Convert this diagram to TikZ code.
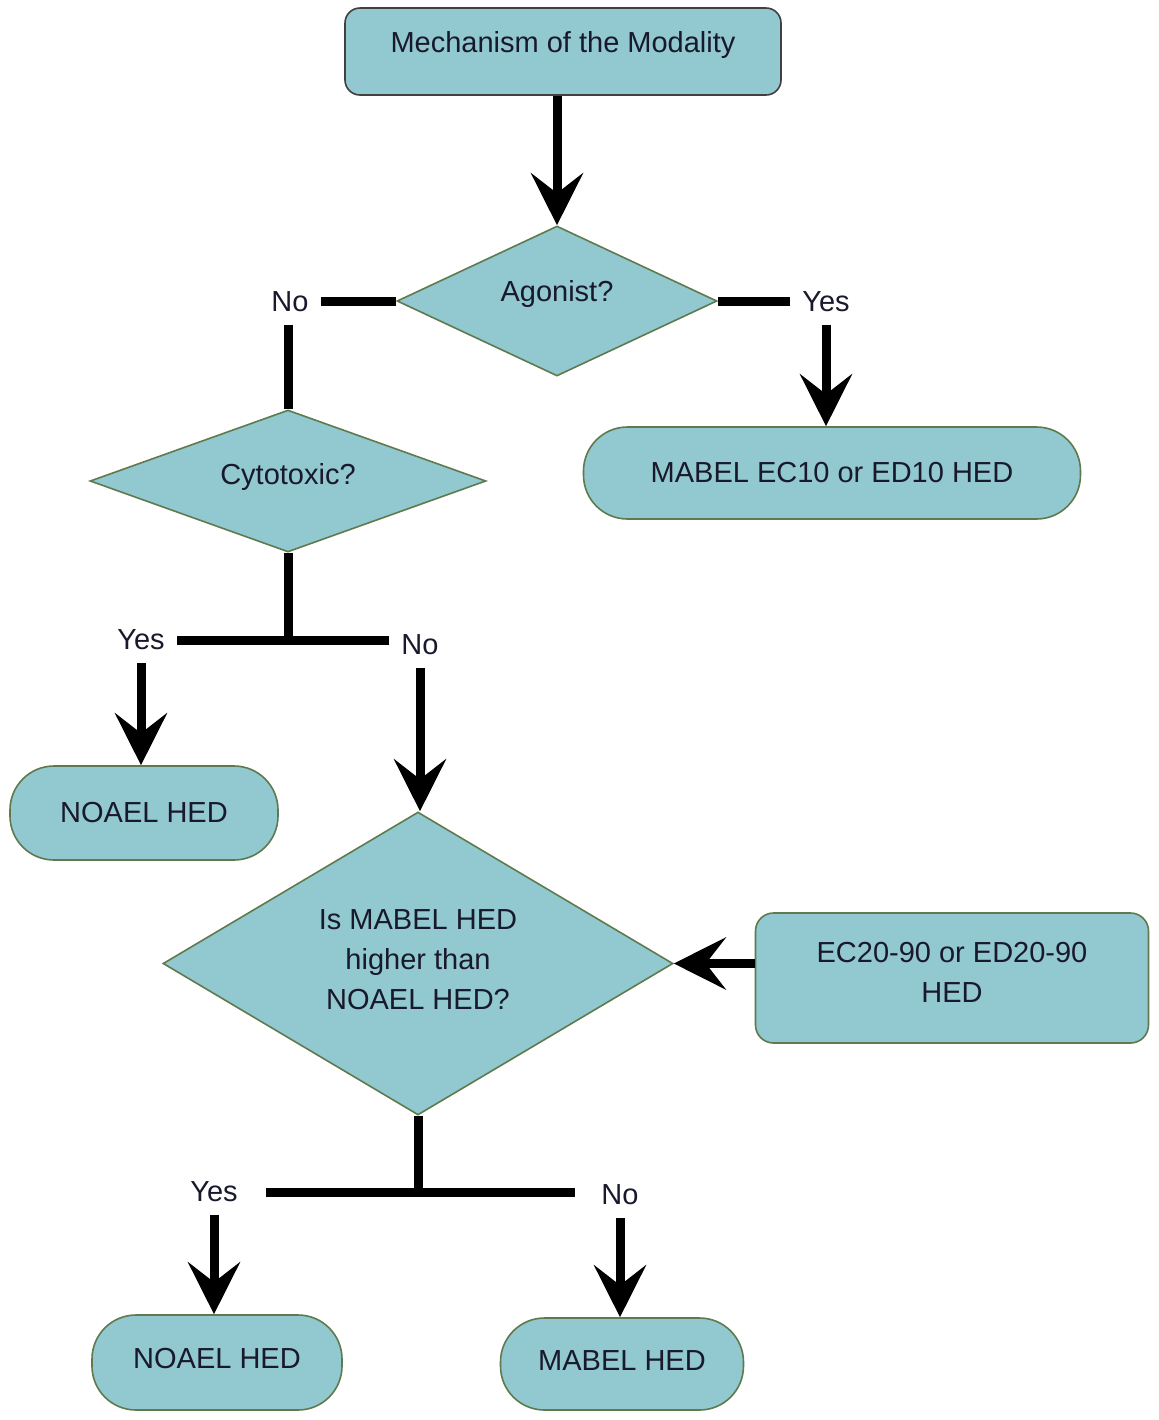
\documentclass[tikz,border=0pt]{standalone}
\usepackage{fontspec}
\setmainfont{Liberation Sans}
\usetikzlibrary{shapes.geometric,arrows.meta}
\definecolor{boxfill}{RGB}{146,200,207}
\definecolor{boxline}{RGB}{94,122,78}
\definecolor{txt}{RGB}{25,25,45}
\begin{document}
\begin{tikzpicture}[x=0.5pt,y=-0.5pt,
  base/.style={fill=boxfill, draw=boxline, line width=0.8pt, text=txt, font=\fontsize{14.5}{20}\selectfont, align=center, inner sep=0pt},
  rbox/.style={base, rectangle, rounded corners=8pt},
  pill/.style={base, rectangle, rounded corners=22pt},
  dec/.style={base, diamond},
  lab/.style={font=\fontsize{14.5}{17}\selectfont, text=txt, inner sep=6pt},
  ln/.style={line width=4.5pt},
  arr/.style={line width=4.5pt, -{Stealth[length=26pt,width=26pt,inset=10pt]}}]
\useasboundingbox (0,0) rectangle (1158,1420);

% shapes
\node[rbox, draw=black!75, minimum width=218pt, minimum height=43.5pt, rounded corners=7.5pt, text depth=10pt] (top) at (563,51.5) {Mechanism of the Modality};
\node[dec, minimum width=160pt, minimum height=75pt, aspect=2.13, text depth=10pt] (ag) at (557,301) {Agonist?};
\node[dec, minimum width=198pt, minimum height=71pt, aspect=2.8, text depth=7pt] (cy) at (288,481) {Cytotoxic?};
\node[pill, minimum width=248.5pt, minimum height=46pt] (m10) at (832,473) {MABEL EC10 or ED10 HED};
\node[pill, minimum width=134pt, minimum height=47pt] (noa1) at (144,813) {NOAEL HED};
\node[dec, minimum width=255pt, minimum height=151.5pt, aspect=1.68, text depth=4pt] (big) at (418,963.5) {Is MABEL HED\\higher than\\NOAEL HED?};
\node[rbox, minimum width=196.5pt, minimum height=65pt, rounded corners=9pt, text depth=6pt] (ec) at (952,978) {EC20-90 or ED20-90\\HED};
\node[pill, minimum width=125pt, minimum height=47.5pt, text depth=4pt] (noa2) at (217,1362.5) {NOAEL HED};
\node[pill, minimum width=121.5pt, minimum height=46pt, text depth=3pt] (mab2) at (622,1364) {MABEL HED};

% labels
\node[lab] (no1) at (290,302) {No};
\node[lab] (yes1) at (826,302) {Yes};
\node[lab] (yes2) at (141,640) {Yes};
\node[lab] (no2) at (420,645) {No};
\node[lab, inner xsep=14pt] (yes3) at (214,1192) {Yes};
\node[lab, inner xsep=13pt] (no3) at (620,1195) {No};

% connectors
\draw[arr] (top.south -| ag.north) -- (ag.north);
\draw[ln] (ag.west) -- (no1.east |- ag.west);
\draw[ln] (no1.south -| cy.north) -- (cy.north);
\draw[ln] (ag.east) -- (yes1.west |- ag.east);
\draw[arr] (yes1.south) -- (yes1.south |- m10.north);
\coordinate (j1) at (cy.south |- yes2.east);
\draw[ln] (cy.south) -- (j1);
\draw[ln] (yes2.east) -- (yes2.east -| no2.west);
\draw[arr] (yes2.south) -- (yes2.south |- noa1.north);
\draw[arr] (no2.south) -- (no2.south |- big.north);
\draw[arr] (ec.west |- big.east) -- (big.east);
\coordinate (j2) at (big.south |- yes3.east);
\draw[ln] (big.south) -- (j2);
\draw[ln] (yes3.east) -- (yes3.east -| no3.west);
\draw[arr] (yes3.south) -- (yes3.south |- noa2.north);
\draw[arr] (no3.south) -- (no3.south |- mab2.north);
\end{tikzpicture}
\end{document}
